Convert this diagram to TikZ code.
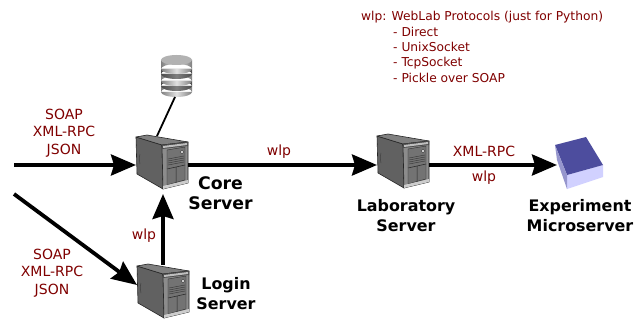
\documentclass[tikz,border=0pt]{standalone}
\usepackage{fontspec}
\setmainfont{DejaVu Sans}
\usetikzlibrary{arrows.meta,calc}
\definecolor{lbl}{HTML}{800000}
\tikzset{
  x=1pt,y=-1pt,
  flow/.style={line width=3.8pt,black,-{Stealth[length=25pt,width=21pt,inset=3pt]}},
  lbl/.style={text=lbl,font=\fontsize{14}{17.5}\selectfont,align=center,inner sep=0pt},
  hdr/.style={text=lbl,font=\fontsize{12.25}{15}\selectfont,anchor=west,inner sep=0pt},
  ttl/.style={text=black,font=\bfseries\fontsize{15.9}{20}\selectfont,align=center,inner sep=0pt},
  ttlbig/.style={text=black,font=\bfseries\fontsize{17.3}{19.5}\selectfont,align=center,inner sep=0pt},
  box/.style={minimum width=52pt,minimum height=58pt,inner sep=0pt,outer sep=0pt},
  edge/.style={draw=black!85,line width=.6pt,line join=round}
}
\newcommand{\srv}[3]{%
\node[box] (#1) at (#2+26,#3+29) {};
\begin{scope}[shift={(#2,#3)}]
  \fill[edge,fill=black!62] (0,1) -- (26,9) -- (27,53) -- (1,38) -- cycle;
  \fill[edge,fill=black!50] (0,1) -- (11,-1) -- (52,6) -- (26,9) -- cycle;
  \fill[edge,fill=black!45] (26,9) -- (52,6) -- (52,47) -- (27,53) -- cycle;
  \fill[black!70] (26,9) -- (52,6) -- (52,10) -- (26,13) -- cycle;
  \fill[black!25] (27,10) -- (51,7) -- (51,9) -- (27,12) -- cycle;
  \fill[black!55,draw=black!85,line width=.4pt] (31,14) -- (49,11) -- (49,44) -- (31,49) -- cycle;
  \draw[black!80,line width=.4pt] (32,23) -- (48,20) (32,25) -- (48,22) (32,27) -- (48,24) (32,29) -- (48,26);
  \draw[black!85,line width=.5pt] (31,33) -- (49,29) (40,31) -- (40,47);
  \fill[black!15,draw=black!80,line width=.3pt] (46,16) circle (1.8pt);
  \fill[black!20] (27,50) -- (52,44) -- (52,47) -- (27,53) -- cycle;
  \draw[black!75,line width=.5pt] (4,18) .. controls (3,22) and (3,25) .. (4,28);
\end{scope}}
\newcommand{\dbseg}[4]{% top y, bottom y, edge shade, middle shade
  \shade[left color=black!#3,right color=black!#3,middle color=black!#4]
    (161,#1) rectangle (192,#2) (176.5,#2) ellipse[x radius=15.5,y radius=5];}
\begin{document}
\begin{tikzpicture}
\useasboundingbox (0,0) rectangle (643,321);
\fill[white] (0,0) rectangle (643,321);

% database
\node[minimum width=31pt,minimum height=42pt,inner sep=0pt,outer sep=0pt] (db) at (176.5,76) {};
\dbseg{86}{92}{50}{12}
\dbseg{81}{86}{70}{50}
\dbseg{74}{81}{50}{12}
\dbseg{69}{74}{70}{50}
\dbseg{60}{69}{50}{12}
\fill[black!30] (176.5,60) ellipse[x radius=15.5,y radius=5];

\srv{core}{136}{136}
\srv{lab}{377}{135}
\srv{login}{137}{265}

% microserver
\node[minimum width=48pt,minimum height=56pt,inner sep=0pt,outer sep=0pt] (micro) at (581,165) {};
\fill[blue!18!white] (567,175) -- (603,165) -- (603,177) -- (567,189) -- cycle;
\fill[fill={rgb,255:red,77;green,77;blue,158}] (555,145) -- (586,137) -- (603,165) -- (567,175) -- cycle;
\fill[fill={rgb,255:red,150;green,150;blue,205}] (555,145) -- (567,175) -- (567,189) -- (557,160) -- cycle;

% connectors
\coordinate (inA) at (14,165);
\coordinate (inB) at (14,194);
\coordinate (loginIn) at (137,285);
\draw[flow] (inA) -- (inA -| core.west);
\draw[flow] (inB) -- (loginIn);
\draw[flow] (login.north) -- (login.north |- core.south);
\draw[flow] (core.east) -- (lab.west |- core.east);
\draw[flow] (lab.east |- micro.west) -- (micro.west);
\draw[line width=1.8pt] ($(core.north)+(-5,0)$) -- ($(db.south)+(-1.5,0)$);

% labels
\node[lbl] (l1) at (64,133) {SOAP\\XML-RPC\\JSON};
\node[lbl] (l2) at (52,273) {SOAP\\XML-RPC\\JSON};
\node[lbl] (l3) at (144,236) {wlp};
\node[lbl] (l4) at (279,152) {wlp};
\node[lbl] (l5) at (484,151) {XML-RPC};
\node[lbl] (l6) at (484,178) {wlp};
\node[ttlbig] (t1) at (220.5,193) {Core\\Server};
\node[ttl] (t2) at (226,293.5) {Login\\Server};
\node[ttl] (t3) at (406,215.5) {Laboratory\\Server};
\node[ttl] (t4) at (580,216) {Experiment\\Microserver};
\node[hdr] (h0) at (361,17) {wlp: WebLab Protocols (just for Python)};
\node[hdr] (h1) at (393,32) {- Direct};
\node[hdr] (h2) at (393,47) {- UnixSocket};
\node[hdr] (h3) at (393,63) {- TcpSocket};
\node[hdr] (h4) at (393,78) {- Pickle over SOAP};
\end{tikzpicture}
\end{document}
